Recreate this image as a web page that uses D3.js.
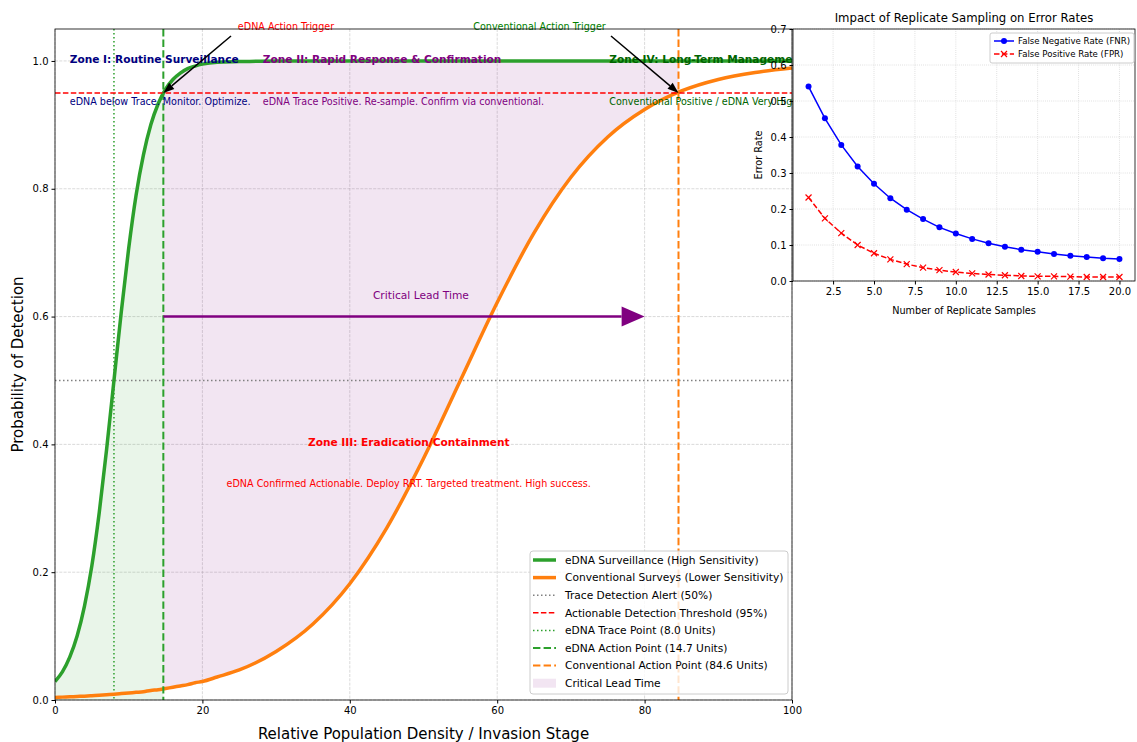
<!DOCTYPE html>
<html><head><meta charset="utf-8">
<script src="https://cdn.jsdelivr.net/npm/d3@7"></script>
<style>
body{margin:0;background:#fff;}
svg{font-family:"DejaVu Sans",sans-serif;}
</style></head>
<body><svg id="c" width="1137" height="742"></svg>
<script>
// ---------------- DATA ----------------
const xGrid = [0,1,2,3,4,5,6,7,8,9,10,11,12,13,14,15,16,17,18,19,20,22,25,30,35,40,45,50,55,60,65,70,75,80,85,90,95,100];
const ednaProb = [0.029,0.044,0.067,0.100,0.147,0.210,0.293,0.392,0.500,0.608,0.707,0.790,0.853,0.900,0.933,0.956,0.971,0.981,0.988,0.992,0.995,0.998,0.999,1.0,1.0,1.0,1.0,1.0,1.0,1.0,1.0,1.0,1.0,1.0,1.0,1.0,1.0,1.0];
const convProb = [0.004,0.0045,0.005,0.0055,0.006,0.0067,0.0074,0.0082,0.009,0.010,0.011,0.012,0.013,0.015,0.016,0.018,0.020,0.022,0.024,0.027,0.029,0.036,0.047,0.076,0.119,0.182,0.269,0.378,0.500,0.622,0.731,0.818,0.881,0.924,0.953,0.971,0.982,0.989];
const traceLevel = 0.5, actionLevel = 0.95;
const ednaTraceX = 8.0, ednaActionX = 14.7, convActionX = 84.6;
const xTicks = [0,20,40,60,80,100];
const yTicks = [0.0,0.2,0.4,0.6,0.8,1.0];

const replicates = [1,2,3,4,5,6,7,8,9,10,11,12,13,14,15,16,17,18,19,20];
const fnr = [0.540,0.452,0.378,0.318,0.270,0.230,0.198,0.172,0.149,0.132,0.117,0.105,0.095,0.087,0.081,0.075,0.070,0.067,0.063,0.061];
const fpr = [0.232,0.174,0.133,0.100,0.077,0.060,0.047,0.037,0.030,0.025,0.021,0.018,0.016,0.014,0.013,0.013,0.012,0.011,0.011,0.011];
const insetXTicks = [2.5,5.0,7.5,10.0,12.5,15.0,17.5,20.0];
const insetYTicks = [0.0,0.1,0.2,0.3,0.4,0.5,0.6,0.7];

// ---------------- MAIN ----------------
const svg = d3.select("#c");
const M = {l:55, r:792, t:29, b:700};
const x = d3.scaleLinear().domain([0,100]).range([M.l,M.r]);
const y = d3.scaleLinear().domain([0,1.05]).range([M.b,M.t]);
const GREEN="#2ca02c", ORANGE="#ff7f0e";
const pts = xGrid.map((v,i)=>({x:v,e:ednaProb[i],c:convProb[i]}));

const defs = svg.append("defs");
defs.append("clipPath").attr("id","plotclip").append("rect").attr("x",M.l).attr("y",M.t).attr("width",M.r-M.l).attr("height",M.b-M.t);
defs.append("clipPath").attr("id","greenclip").append("rect").attr("x",x(0)).attr("y",M.t).attr("width",x(ednaActionX)-x(0)).attr("height",M.b-M.t);
defs.append("clipPath").attr("id","purpclip").append("rect").attr("x",x(ednaActionX)).attr("y",M.t).attr("width",x(convActionX)-x(ednaActionX)).attr("height",M.b-M.t);

// grid
const g = svg.append("g");
g.selectAll(".gx").data(xTicks).join("line").attr("x1",d=>x(d)).attr("x2",d=>x(d)).attr("y1",M.t).attr("y2",M.b)
 .attr("stroke","#b0b0b0").attr("stroke-opacity",0.6).attr("stroke-width",0.8).attr("stroke-dasharray","3,1.3");
g.selectAll(".gy").data(yTicks).join("line").attr("y1",d=>y(d)).attr("y2",d=>y(d)).attr("x1",M.l).attr("x2",M.r)
 .attr("stroke","#b0b0b0").attr("stroke-opacity",0.6).attr("stroke-width",0.8).attr("stroke-dasharray","3,1.3");

// fills
g.append("path").datum(pts).attr("clip-path","url(#greenclip)")
 .attr("d",d3.area().x(d=>x(d.x)).y0(y(0)).y1(d=>y(d.e)).curve(d3.curveMonotoneX))
 .attr("fill",GREEN).attr("fill-opacity",0.1);
g.append("path").datum(pts).attr("clip-path","url(#purpclip)")
 .attr("d",d3.area().x(d=>x(d.x)).y0(d=>y(d.c)).y1(d=>y(d.e)).curve(d3.curveMonotoneX))
 .attr("fill","purple").attr("fill-opacity",0.1);

// reference lines
g.append("line").attr("x1",M.l).attr("x2",M.r).attr("y1",y(traceLevel)).attr("y2",y(traceLevel))
 .attr("stroke","gray").attr("stroke-width",1.5).attr("stroke-dasharray","1.5,2.5");
g.append("line").attr("x1",x(ednaTraceX)).attr("x2",x(ednaTraceX)).attr("y1",M.t).attr("y2",M.b)
 .attr("stroke",GREEN).attr("stroke-width",1.5).attr("stroke-dasharray","1.5,2.5");

// curves
const lineE = d3.line().x(d=>x(d.x)).y(d=>y(d.e)).curve(d3.curveMonotoneX);
const lineC = d3.line().x(d=>x(d.x)).y(d=>y(d.c)).curve(d3.curveMonotoneX);
const cg = g.append("g").attr("clip-path","url(#plotclip)");
cg.append("path").datum(pts).attr("d",lineE).attr("fill","none").attr("stroke",GREEN).attr("stroke-width",3.5);
cg.append("path").datum(pts).attr("d",lineC).attr("fill","none").attr("stroke",ORANGE).attr("stroke-width",3.5);

g.append("line").attr("x1",M.l).attr("x2",M.r).attr("y1",y(actionLevel)).attr("y2",y(actionLevel))
 .attr("stroke","red").attr("stroke-width",1.5).attr("stroke-dasharray","5.5,2.4");
g.append("line").attr("x1",x(ednaActionX)).attr("x2",x(ednaActionX)).attr("y1",M.t).attr("y2",M.b)
 .attr("stroke",GREEN).attr("stroke-width",2).attr("stroke-dasharray","7.4,3.2");
g.append("line").attr("x1",x(convActionX)).attr("x2",x(convActionX)).attr("y1",M.t).attr("y2",M.b)
 .attr("stroke",ORANGE).attr("stroke-width",2).attr("stroke-dasharray","7.4,3.2");

// critical lead time arrow
const ay = 0.6, arrowEndX = 80;
const hx = x(arrowEndX)-23;
g.append("line").attr("x1",x(ednaActionX)).attr("x2",hx).attr("y1",y(ay)).attr("y2",y(ay)).attr("stroke","purple").attr("stroke-width",2.5);
g.append("path").attr("d",`M${hx},${y(ay)-10}L${x(arrowEndX)},${y(ay)}L${hx},${y(ay)+10}Z`).attr("fill","purple");
g.append("text").attr("x",x((ednaActionX+convActionX)/2)).attr("y",y(0.627)).attr("text-anchor","middle")
 .attr("font-size",10.7).attr("fill","purple").text("Critical Lead Time");

// zone texts
function txt(xv,yv,s,col,sz,bold,anchor){
  return g.append("text").attr("x",x(xv)).attr("y",y(yv)).attr("dy","0.35em").attr("font-size",sz)
   .attr("font-weight",bold?"bold":"normal").attr("fill",col).attr("text-anchor",anchor||"start").text(s);
}
const ZB = 10.6, ZD = 9.6;
txt(2,1.003,"Zone I: Routine Surveillance","navy",ZB,true);
txt(2,0.937,"eDNA below Trace. Monitor. Optimize.","navy",ZD,false);
txt(28.2,1.003,"Zone II: Rapid Response & Confirmation","purple",ZB,true);
txt(28.2,0.937,"eDNA Trace Positive. Re-sample. Confirm via conventional.","purple",ZD,false);
txt(75.2,1.003,"Zone IV: Long-Term Management","darkgreen",ZB,true);
txt(75.2,0.937,"Conventional Positive / eDNA Very High","darkgreen",ZD,false);
txt(48.0,0.404,"Zone III: Eradication/Containment","red",ZB,true,"middle");
txt(48.0,0.338,"eDNA Confirmed Actionable. Deploy RRT. Targeted treatment. High success.","red",ZD,false,"middle");

// annotation arrows
function annot(tx,ty,label,col,fromPx,toX,toY){
  svg.append("text").attr("x",tx).attr("y",ty).attr("text-anchor","middle").attr("font-size",9.6).attr("fill",col).text(label);
  const x1=fromPx[0], y1=fromPx[1], x2=x(toX), y2=y(toY);
  const ang=Math.atan2(y2-y1,x2-x1), L=11, W=4;
  const bx=x2-L*Math.cos(ang), by=y2-L*Math.sin(ang);
  svg.append("line").attr("x1",x1).attr("y1",y1).attr("x2",bx).attr("y2",by).attr("stroke","black").attr("stroke-width",1.5);
  svg.append("path").attr("d",`M${x2},${y2}L${bx+W*Math.sin(ang)},${by-W*Math.cos(ang)}L${bx-W*Math.sin(ang)},${by+W*Math.cos(ang)}Z`).attr("fill","black");
}
annot(286,29.5,"eDNA Action Trigger","red",[231,36],ednaActionX,actionLevel);
annot(539.5,29.5,"Conventional Action Trigger","green",[611,36],convActionX,actionLevel);

// axes
svg.append("g").attr("transform",`translate(0,${M.b})`).call(d3.axisBottom(x).tickValues(xTicks).tickFormat(d3.format("d")).tickSizeOuter(0).tickSize(3.5))
 .call(a=>{a.selectAll("text").attr("font-size",10).attr("fill","#000").attr("font-family","DejaVu Sans");a.select(".domain").remove();});
svg.append("g").attr("transform",`translate(${M.l},0)`).call(d3.axisLeft(y).tickValues(yTicks).tickFormat(d3.format(".1f")).tickSizeOuter(0).tickSize(3.5))
 .call(a=>{a.selectAll("text").attr("font-size",10).attr("fill","#000").attr("font-family","DejaVu Sans");a.select(".domain").remove();});
svg.append("rect").attr("x",M.l).attr("y",M.t).attr("width",M.r-M.l).attr("height",M.b-M.t).attr("fill","none").attr("stroke","#000").attr("stroke-width",0.8);
svg.append("text").attr("x",(M.l+M.r)/2).attr("y",739).attr("text-anchor","middle").attr("font-size",15).text("Relative Population Density / Invasion Stage");
svg.append("text").attr("transform",`translate(23,${(M.t+M.b)/2}) rotate(-90)`).attr("text-anchor","middle").attr("font-size",15).text("Probability of Detection");

// legend
const lg = svg.append("g");
lg.append("rect").attr("x",530).attr("y",551).attr("width",258).attr("height",143).attr("rx",3).attr("fill","#fff").attr("fill-opacity",0.8).attr("stroke","#ccc");
const legItems = [
 {t:"eDNA Surveillance (High Sensitivity)",c:GREEN,w:3.5,d:null},
 {t:"Conventional Surveys (Lower Sensitivity)",c:ORANGE,w:3.5,d:null},
 {t:"Trace Detection Alert (50%)",c:"gray",w:1.5,d:"1.5,2.5"},
 {t:"Actionable Detection Threshold (95%)",c:"red",w:1.5,d:"5.5,2.4"},
 {t:"eDNA Trace Point (8.0 Units)",c:GREEN,w:1.5,d:"1.5,2.5"},
 {t:"eDNA Action Point (14.7 Units)",c:GREEN,w:2,d:"7.4,3.2"},
 {t:"Conventional Action Point (84.6 Units)",c:ORANGE,w:2,d:"7.4,3.2"},
 {t:"Critical Lead Time",patch:true}
];
legItems.forEach((it,i)=>{
  const yy = 560 + i*17.6;
  if(it.patch){
    lg.append("rect").attr("x",533).attr("y",yy-4.5).attr("width",23).attr("height",9).attr("fill","purple").attr("fill-opacity",0.1);
  } else {
    lg.append("line").attr("x1",533).attr("x2",556).attr("y1",yy).attr("y2",yy).attr("stroke",it.c).attr("stroke-width",it.w).attr("stroke-dasharray",it.d);
  }
  lg.append("text").attr("x",565).attr("y",yy).attr("dy","0.35em").attr("font-size",10.65).text(it.t);
});

// ---------------- INSET ----------------
const I = {l:793, r:1135, t:29, b:281};
const ix = d3.scaleLinear().domain([0.05,20.95]).range([I.l,I.r]);
const iy = d3.scaleLinear().domain([0,0.7]).range([I.b,I.t]);
const ig = svg.append("g");
ig.append("rect").attr("x",I.l).attr("y",I.t).attr("width",I.r-I.l).attr("height",I.b-I.t).attr("fill","#fff");
ig.selectAll(".gx").data(insetXTicks).join("line").attr("x1",d=>ix(d)).attr("x2",d=>ix(d)).attr("y1",I.t).attr("y2",I.b)
 .attr("stroke","#b0b0b0").attr("stroke-opacity",0.6).attr("stroke-width",0.8).attr("stroke-dasharray","0.8,1.3");
ig.selectAll(".gy").data(insetYTicks).join("line").attr("y1",d=>iy(d)).attr("y2",d=>iy(d)).attr("x1",I.l).attr("x2",I.r)
 .attr("stroke","#b0b0b0").attr("stroke-opacity",0.6).attr("stroke-width",0.8).attr("stroke-dasharray","0.8,1.3");
const fnrPts = replicates.map((r,i)=>[r,fnr[i]]), fprPts = replicates.map((r,i)=>[r,fpr[i]]);
const il = d3.line().x(d=>ix(d[0])).y(d=>iy(d[1]));
ig.append("path").datum(fnrPts).attr("d",il).attr("fill","none").attr("stroke","blue").attr("stroke-width",1.5);
ig.selectAll(".mo").data(fnrPts).join("circle").attr("cx",d=>ix(d[0])).attr("cy",d=>iy(d[1])).attr("r",3).attr("fill","blue");
ig.append("path").datum(fprPts).attr("d",il).attr("fill","none").attr("stroke","red").attr("stroke-width",1.5).attr("stroke-dasharray","5.5,2.4");
function xmark(gp,cx,cy,s,col){
  gp.append("path").attr("d",`M${cx-s},${cy-s}L${cx+s},${cy+s}M${cx-s},${cy+s}L${cx+s},${cy-s}`).attr("stroke",col).attr("stroke-width",1.2);
}
fprPts.forEach(d=>xmark(ig,ix(d[0]),iy(d[1]),3,"red"));
svg.append("g").attr("transform",`translate(0,${I.b})`).call(d3.axisBottom(ix).tickValues(insetXTicks).tickFormat(d3.format(".1f")).tickSizeOuter(0).tickSize(3.5))
 .call(a=>{a.selectAll("text").attr("font-size",10).attr("fill","#000").attr("font-family","DejaVu Sans");a.select(".domain").remove();});
svg.append("g").attr("transform",`translate(${I.l},0)`).call(d3.axisLeft(iy).tickValues(insetYTicks).tickFormat(d3.format(".1f")).tickSizeOuter(0).tickSize(3.5))
 .call(a=>{a.selectAll("text").attr("font-size",10).attr("fill","#000").attr("font-family","DejaVu Sans");a.select(".domain").remove();});
ig.append("rect").attr("x",I.l).attr("y",I.t).attr("width",I.r-I.l).attr("height",I.b-I.t).attr("fill","none").attr("stroke","#000").attr("stroke-width",0.8);
svg.append("text").attr("x",(I.l+I.r)/2).attr("y",22).attr("text-anchor","middle").attr("font-size",11.7).text("Impact of Replicate Sampling on Error Rates");
svg.append("text").attr("x",(I.l+I.r)/2).attr("y",314).attr("text-anchor","middle").attr("font-size",9.7).text("Number of Replicate Samples");
svg.append("text").attr("transform",`translate(762,${(I.t+I.b)/2}) rotate(-90)`).attr("text-anchor","middle").attr("font-size",9.7).text("Error Rate");
// inset legend
const il2 = svg.append("g");
il2.append("rect").attr("x",990).attr("y",33).attr("width",144).attr("height",30).attr("rx",2).attr("fill","#fff").attr("fill-opacity",0.8).attr("stroke","#ccc");
il2.append("line").attr("x1",994).attr("x2",1014).attr("y1",41).attr("y2",41).attr("stroke","blue").attr("stroke-width",1.5);
il2.append("circle").attr("cx",1004).attr("cy",41).attr("r",3).attr("fill","blue");
il2.append("text").attr("x",1018).attr("y",41).attr("dy","0.35em").attr("font-size",8.6).text("False Negative Rate (FNR)");
il2.append("line").attr("x1",994).attr("x2",1014).attr("y1",54).attr("y2",54).attr("stroke","red").attr("stroke-width",1.5).attr("stroke-dasharray","5.5,2.4");
xmark(il2,1004,54,3,"red");
il2.append("text").attr("x",1018).attr("y",54).attr("dy","0.35em").attr("font-size",8.6).text("False Positive Rate (FPR)");
</script></body></html>
